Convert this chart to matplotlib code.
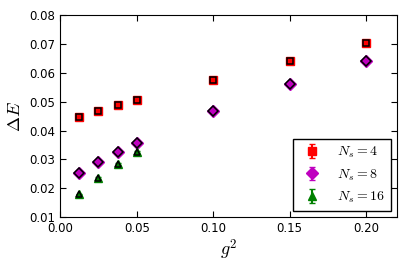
import matplotlib
matplotlib.use('Agg')
import matplotlib.pyplot as plt

plt.rcParams['mathtext.fontset'] = 'cm'
plt.rcParams['font.size'] = 8.5

g2 = [0.0125, 0.025, 0.0375, 0.05, 0.1, 0.15, 0.2]
dE_4 = [0.0447, 0.0469, 0.0488, 0.0505, 0.0577, 0.0641, 0.0703]
dE_8 = [0.0254, 0.0290, 0.0324, 0.0356, 0.0469, 0.0562, 0.0643]
g2_16 = [0.0125, 0.025, 0.0375, 0.05]
dE_16 = [0.0178, 0.0235, 0.0283, 0.0325]
err_4 = [0.0003] * 7
err_8 = [0.0003] * 7
err_16 = [0.0003] * 4

series = [
    (g2, dE_4, err_4, 'red', 's', r'$N_s=4$'),
    (g2, dE_8, err_8, 'm', 'D', r'$N_s=8$'),
    (g2_16, dE_16, err_16, 'green', '^', r'$N_s=16$'),
]

fig = plt.figure(figsize=(4.07, 2.71), dpi=100)
ax = fig.add_axes([0.148, 0.2, 0.827, 0.743])

for x, y, e, c, m, lab in series:
    ax.errorbar(x, y, yerr=e, fmt=m, color=c, ecolor=c, mec=c, ms=6,
                capsize=2, label=lab, zorder=2)
    ax.plot(x, y, m, color=c, mec='black', mew=1.1, ms=4.8, zorder=3)

ax.set_xlim(0, 0.22)
ax.set_ylim(0.01, 0.08)
ax.set_xticks([0.0, 0.05, 0.10, 0.15, 0.20])
ax.set_xticklabels(['0.00', '0.05', '0.10', '0.15', '0.20'])
ax.set_yticks([0.01, 0.02, 0.03, 0.04, 0.05, 0.06, 0.07, 0.08])
ax.set_yticklabels(['0.01', '0.02', '0.03', '0.04', '0.05', '0.06', '0.07', '0.08'])
ax.tick_params(direction='in', top=True, right=True, length=4)
ax.set_xlabel(r'$g^2$', fontsize=13, labelpad=2)
ax.set_ylabel(r'$\Delta E$', fontsize=13, labelpad=4)

leg = ax.legend(loc='lower right', numpoints=1, fancybox=False, framealpha=1,
                edgecolor='black', fontsize=10, handletextpad=0.8,
                borderaxespad=0.45, labelspacing=0.5)
leg.get_frame().set_linewidth(1.0)

fig.savefig('out.png', dpi=100)
